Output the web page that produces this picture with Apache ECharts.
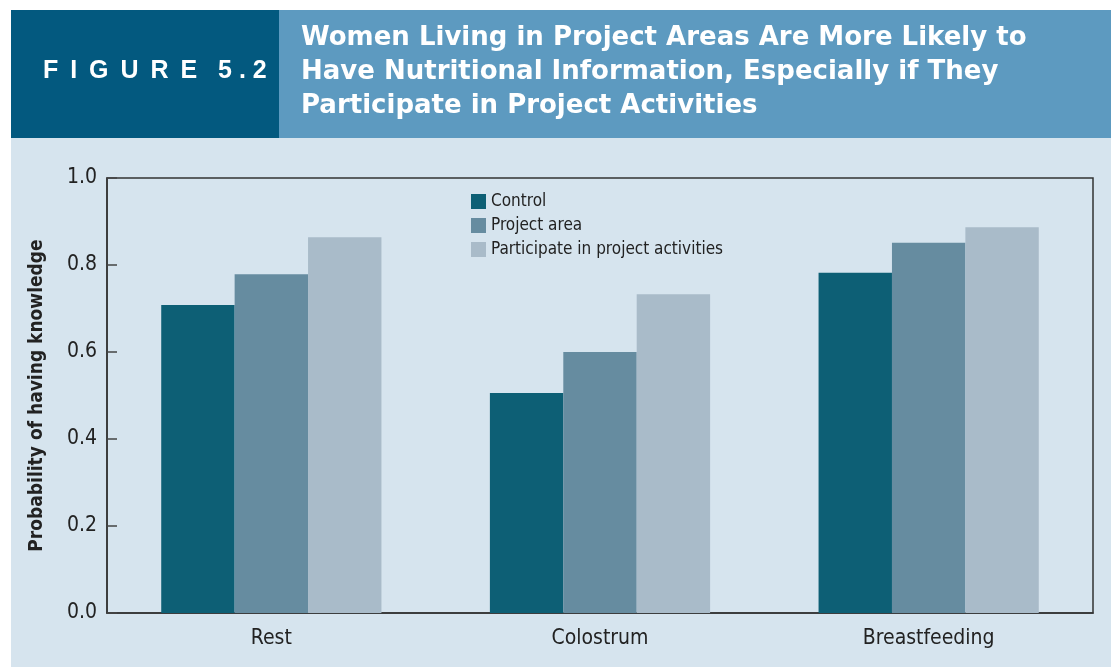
<!DOCTYPE html>
<html>
<head>
<meta charset="utf-8">
<style>
html,body{margin:0;padding:0;background:#fff;}
#main{width:1111px;height:667px;}
</style>
<script src="https://cdn.jsdelivr.net/npm/echarts@6/dist/echarts.min.js"></script>
</head>
<body>
<div id="main"></div>
<script type="text/javascript">
// data
var categories = ['Rest', 'Colostrum', 'Breastfeeding'];
var seriesNames = ['Control', 'Project area', 'Participate in project activities'];
var controlVals = [0.708, 0.506, 0.782];
var projectVals = [0.779, 0.600, 0.851];
var participateVals = [0.864, 0.733, 0.887];

var narrow = '"Liberation Sans Narrow", "DejaVu Sans Condensed", "Liberation Sans", sans-serif';
var colors = ['#0d5f75', '#668ca0', '#a9bbc9'];

var myChart = echarts.init(document.getElementById('main'));

var option = {
    backgroundColor: '#ffffff',
    animation: false,
    color: colors,
    graphic: [
        { type: 'rect', shape: { x: 11, y: 138, width: 1100, height: 529 }, style: { fill: '#d6e4ee' }, z: -10 },
        { type: 'rect', shape: { x: 11, y: 10, width: 268, height: 128 }, style: { fill: '#03597f' }, z: -10 },
        { type: 'rect', shape: { x: 279, y: 10, width: 832, height: 128 }, style: { fill: '#5d9ac0' }, z: -10 },
        {
            type: 'text', left: 43, top: 59,
            style: { text: 'F\u2009 I\u2009 G\u2009 U\u2009 R\u2009 E   5 . 2', fill: '#fff', font: 'bold 25px "Liberation Sans", Arial, sans-serif' }
        },
        {
            type: 'text', left: 301, top: 21,
            style: {
                text: 'Women Living in Project Areas Are More Likely to\nHave Nutritional Information, Especially if They\nParticipate in Project Activities',
                fill: '#fff', lineHeight: 34,
                font: 'bold 26px "DejaVu Sans", sans-serif'
            }
        }
    ],
    legend: {
        data: seriesNames,
        orient: 'vertical',
        left: 471,
        top: 193,
        padding: 0,
        itemWidth: 15,
        itemHeight: 15,
        itemGap: 7,
        icon: 'rect',
        textStyle: { fontFamily: narrow, fontSize: 17, color: '#222' }
    },
    grid: {
        left: 107, right: 18, top: 178, bottom: 54,
        show: true, borderColor: '#333', borderWidth: 1.5, backgroundColor: 'transparent'
    },
    xAxis: {
        type: 'category',
        data: categories,
        axisLine: { lineStyle: { color: '#333', width: 1.5 } },
        axisTick: { show: false },
        axisLabel: { fontFamily: narrow, fontSize: 21, color: '#222', margin: 15 }
    },
    yAxis: {
        type: 'value',
        min: 0, max: 1, interval: 0.2,
        name: 'Probability of having knowledge',
        nameLocation: 'middle',
        nameGap: 60,
        nameTextStyle: { fontFamily: narrow, fontSize: 19, fontWeight: 'bold', color: '#222', padding: [0, 0, 0, 0] },
        axisLine: { show: true, lineStyle: { color: '#333', width: 1.5 } },
        axisTick: { show: true, inside: true, length: 10, lineStyle: { color: '#444', width: 1.5 } },
        splitLine: { show: false },
        axisLabel: {
            fontFamily: narrow, fontSize: 21, color: '#222', margin: 10,
            formatter: function (v) { return v.toFixed(1); }
        }
    },
    series: [
        { name: seriesNames[0], type: 'bar', data: controlVals, barGap: '0%', barCategoryGap: '33%' },
        { name: seriesNames[1], type: 'bar', data: projectVals, barGap: '0%', barCategoryGap: '33%' },
        { name: seriesNames[2], type: 'bar', data: participateVals, barGap: '0%', barCategoryGap: '33%' }
    ]
};

myChart.setOption(option);
</script>
</body>
</html>
